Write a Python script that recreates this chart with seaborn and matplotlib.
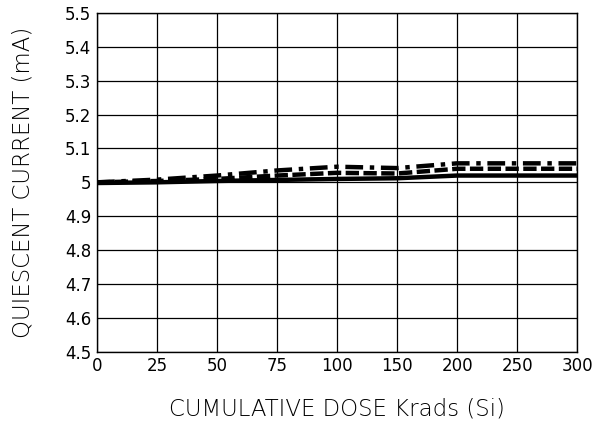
import numpy as np
import pandas as pd
import matplotlib
matplotlib.use("Agg")
import matplotlib.pyplot as plt
import seaborn as sns

# data
doses = ["0", "25", "50", "75", "100", "150", "200", "250", "300"]
solid_vals = [4.998, 5.000, 5.004, 5.007, 5.010, 5.012, 5.020, 5.020, 5.020]
dashed_vals = [5.000, 5.004, 5.010, 5.020, 5.028, 5.026, 5.040, 5.040, 5.040]
dashdot_vals = [5.000, 5.008, 5.020, 5.035, 5.046, 5.042, 5.056, 5.056, 5.056]
y_ticks = [4.5, 4.6, 4.7, 4.8, 4.9, 5.0, 5.1, 5.2, 5.3, 5.4, 5.5]
y_labels = ["4.5", "4.6", "4.7", "4.8", "4.9", "5", "5.1", "5.2", "5.3", "5.4", "5.5"]

sns.set_style("white")
plt.rcParams['font.family'] = ['DejaVu Sans']
plt.rcParams['text.color'] = 'black'
plt.rcParams['xtick.color'] = 'black'
plt.rcParams['ytick.color'] = 'black'
plt.rcParams['axes.labelcolor'] = 'black'

pos = np.arange(len(doses))
df = pd.DataFrame({"pos": pos, "solid": solid_vals, "dashed": dashed_vals, "dashdot": dashdot_vals})

fig = plt.figure(figsize=(5.95, 4.26), dpi=100)
ax = fig.add_axes([0.163, 0.174, 0.807, 0.796])

sns.lineplot(data=df, x="pos", y="solid", ax=ax, color="black", linewidth=3.2, linestyle="-")
sns.lineplot(data=df, x="pos", y="dashed", ax=ax, color="black", linewidth=3.2, linestyle=(0, (3, 1)))
sns.lineplot(data=df, x="pos", y="dashdot", ax=ax, color="black", linewidth=3.2, linestyle=(0, (4, 1.5, 1, 1.5)))

ax.set_xlim(0, len(doses) - 1)
ax.set_ylim(4.5, 5.5)
ax.set_xticks(pos)
ax.set_xticklabels(doses, fontsize=12)
ax.set_yticks(y_ticks)
ax.set_yticklabels(y_labels, fontsize=12)
ax.tick_params(length=0, pad=4)
ax.grid(True, color="black", linewidth=0.9)
for s in ax.spines.values():
    s.set_color("black")
    s.set_linewidth(1.0)

ax.set_xlabel("CUMULATIVE DOSE Krads (Si)", fontsize=16.5, fontweight="light", labelpad=16)
ax.set_ylabel("QUIESCENT CURRENT (mA)", fontsize=16.5, fontweight="light", labelpad=22)

fig.savefig("out.png", dpi=100)
